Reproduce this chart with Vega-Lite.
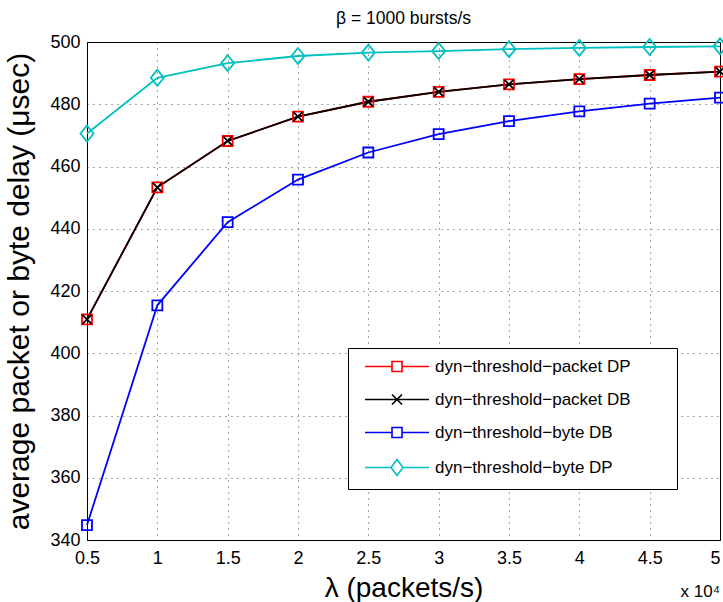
{
  "$schema": "https://vega.github.io/schema/vega-lite/v6.json",
  "width": 633,
  "height": 498,
  "autosize": "none",
  "padding": {"left": 87, "top": 42, "right": 3, "bottom": 62},
  "background": "white",
  "title": {"text": "β = 1000 bursts/s", "fontSize": 17.5, "fontWeight": "normal", "font": "Liberation Sans", "offset": 6, "color": "black"},
  "config": {
    "font": "Liberation Sans",
    "view": {"stroke": "black", "strokeWidth": 1},
    "axis": {
      "labelFont": "Liberation Sans", "labelFontSize": 18, "labelColor": "black",
      "titleFont": "Liberation Sans", "titleFontWeight": "normal", "titleColor": "black",
      "grid": true, "gridColor": "black", "gridDash": [1, 5], "gridOpacity": 0.7,
      "domainColor": "black", "ticks": false, "labelPadding": 7, "labelFlush": false
    }
  },
  "data": {"values": [
    {"x": 0.5, "y": 410.9, "s": "dyn−threshold−packet DP"},
    {"x": 1.0, "y": 453.3, "s": "dyn−threshold−packet DP"},
    {"x": 1.5, "y": 468.2, "s": "dyn−threshold−packet DP"},
    {"x": 2.0, "y": 476.0, "s": "dyn−threshold−packet DP"},
    {"x": 2.5, "y": 480.8, "s": "dyn−threshold−packet DP"},
    {"x": 3.0, "y": 484.0, "s": "dyn−threshold−packet DP"},
    {"x": 3.5, "y": 486.4, "s": "dyn−threshold−packet DP"},
    {"x": 4.0, "y": 488.1, "s": "dyn−threshold−packet DP"},
    {"x": 4.5, "y": 489.4, "s": "dyn−threshold−packet DP"},
    {"x": 5.0, "y": 490.5, "s": "dyn−threshold−packet DP"},
    {"x": 0.5, "y": 410.9, "s": "dyn−threshold−packet DB"},
    {"x": 1.0, "y": 453.3, "s": "dyn−threshold−packet DB"},
    {"x": 1.5, "y": 468.2, "s": "dyn−threshold−packet DB"},
    {"x": 2.0, "y": 476.0, "s": "dyn−threshold−packet DB"},
    {"x": 2.5, "y": 480.8, "s": "dyn−threshold−packet DB"},
    {"x": 3.0, "y": 484.0, "s": "dyn−threshold−packet DB"},
    {"x": 3.5, "y": 486.4, "s": "dyn−threshold−packet DB"},
    {"x": 4.0, "y": 488.1, "s": "dyn−threshold−packet DB"},
    {"x": 4.5, "y": 489.4, "s": "dyn−threshold−packet DB"},
    {"x": 5.0, "y": 490.5, "s": "dyn−threshold−packet DB"},
    {"x": 0.5, "y": 344.8, "s": "dyn−threshold−byte DB"},
    {"x": 1.0, "y": 415.4, "s": "dyn−threshold−byte DB"},
    {"x": 1.5, "y": 442.1, "s": "dyn−threshold−byte DB"},
    {"x": 2.0, "y": 455.8, "s": "dyn−threshold−byte DB"},
    {"x": 2.5, "y": 464.5, "s": "dyn−threshold−byte DB"},
    {"x": 3.0, "y": 470.4, "s": "dyn−threshold−byte DB"},
    {"x": 3.5, "y": 474.6, "s": "dyn−threshold−byte DB"},
    {"x": 4.0, "y": 477.7, "s": "dyn−threshold−byte DB"},
    {"x": 4.5, "y": 480.2, "s": "dyn−threshold−byte DB"},
    {"x": 5.0, "y": 482.1, "s": "dyn−threshold−byte DB"},
    {"x": 0.5, "y": 470.6, "s": "dyn−threshold−byte DP"},
    {"x": 1.0, "y": 488.5, "s": "dyn−threshold−byte DP"},
    {"x": 1.5, "y": 493.2, "s": "dyn−threshold−byte DP"},
    {"x": 2.0, "y": 495.5, "s": "dyn−threshold−byte DP"},
    {"x": 2.5, "y": 496.6, "s": "dyn−threshold−byte DP"},
    {"x": 3.0, "y": 497.1, "s": "dyn−threshold−byte DP"},
    {"x": 3.5, "y": 497.7, "s": "dyn−threshold−byte DP"},
    {"x": 4.0, "y": 498.1, "s": "dyn−threshold−byte DP"},
    {"x": 4.5, "y": 498.4, "s": "dyn−threshold−byte DP"},
    {"x": 5.0, "y": 498.6, "s": "dyn−threshold−byte DP"}
  ]},
  "encoding": {
    "x": {"field": "x", "type": "quantitative", "scale": {"domain": [0.5, 5], "nice": false, "zero": false},
          "axis": {"values": [0.5, 1, 1.5, 2, 2.5, 3, 3.5, 4, 4.5, 5], "format": "~g", "title": "λ (packets/s)", "titleFontSize": 28, "titlePadding": 7, "labelPadding": 9,
                   "labelAlign": {"condition": {"test": "datum.value == 5", "value": "right"}, "value": "center"}}},
    "y": {"field": "y", "type": "quantitative", "scale": {"domain": [340, 500], "nice": false, "zero": false},
          "axis": {"values": [340, 360, 380, 400, 420, 440, 460, 480, 500], "title": "average packet or byte delay (μsec)", "titleFontSize": 30, "titlePadding": 15}},
    "color": {"field": "s", "type": "nominal",
              "scale": {"domain": ["dyn−threshold−packet DP", "dyn−threshold−packet DB", "dyn−threshold−byte DB", "dyn−threshold−byte DP"],
                        "range": ["#FF0000", "#000000", "#0000FF", "#00BFBF"]}}
  },
  "layer": [
    {
      "mark": {"type": "line", "strokeWidth": 1.8},
      "encoding": {
        "color": {"field": "s", "type": "nominal",
          "legend": {
            "title": " ", "titleOrient": "right", "titlePadding": 36, "titleFontSize": 10,
            "orient": "none", "legendX": 261, "legendY": 306,
            "fillColor": "white", "strokeColor": "black", "padding": 10,
            "labelFontSize": 17, "labelFont": "Liberation Sans", "labelColor": "black", "labelLimit": 400,
            "symbolSize": 100, "symbolOffset": 30.5, "labelOffset": 29.5, "rowPadding": 15, "symbolStrokeWidth": 1.6,
            "encode": {"symbols": {"update": {
              "fill": {"value": "transparent"},
              "shape": {"signal": "datum.value == 'dyn−threshold−packet DB' ? 'M-6.4,0L6.4,0M-1,-1L1,1M-1,1L1,-1' : (datum.value == 'dyn−threshold−byte DP' ? 'M-6.4,0L-1.2,0M1.2,0L6.4,0M0,-1.6L1.2,0L0,1.6L-1.2,0Z' : 'M-6.4,0L-1,0M1,0L6.4,0M-1,-1L1,-1L1,1L-1,1Z')"}
            }}}
          }}
      }
    },
    {
      "transform": [{"filter": "datum.s == 'dyn−threshold−packet DP' || datum.s == 'dyn−threshold−byte DB'"}],
      "mark": {"type": "point", "shape": "square", "filled": false, "size": 100, "strokeWidth": 1.8, "opacity": 1},
      "encoding": {"color": {"field": "s", "type": "nominal", "legend": null}}
    },
    {
      "transform": [{"filter": "datum.s == 'dyn−threshold−packet DB'"}],
      "mark": {"type": "point", "shape": "M-0.9,-0.9L0.9,0.9M-0.9,0.9L0.9,-0.9", "filled": false, "size": 100, "strokeWidth": 1.8, "opacity": 1},
      "encoding": {"color": {"field": "s", "type": "nominal", "legend": null}}
    },
    {
      "transform": [{"filter": "datum.s == 'dyn−threshold−byte DP'"}],
      "mark": {"type": "point", "shape": "M0,-1.6L1.3,0L0,1.6L-1.3,0Z", "filled": false, "size": 100, "strokeWidth": 1.8, "opacity": 1},
      "encoding": {"color": {"field": "s", "type": "nominal", "legend": null}}
    },
    {
      "data": {"values": [{"t": "x 10⁴", "x": 5, "y": 340}]},
      "mark": {"type": "text", "align": "right", "baseline": "middle", "dy": 52, "fontSize": 17, "font": "Liberation Sans", "color": "black"},
      "encoding": {
        "x": {"field": "x", "type": "quantitative"},
        "y": {"field": "y", "type": "quantitative"},
        "text": {"field": "t"},
        "color": {"value": "black"}
      }
    }
  ]
}
